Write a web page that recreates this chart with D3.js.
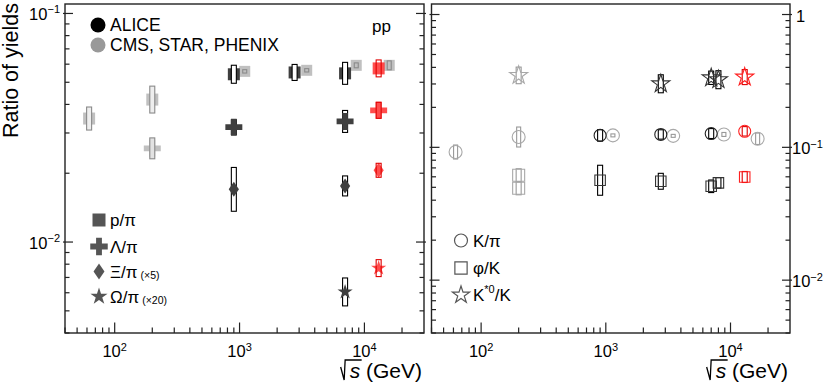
<!DOCTYPE html>
<html>
<head>
<meta charset="utf-8">
<script src="https://cdn.jsdelivr.net/npm/d3@7"></script>
<style>
  body { margin: 0; background: #fff; }
  svg { display: block; font-family: "Liberation Sans", Arial, Helvetica, sans-serif; }
</style>
</head>
<body>
<svg id="chart" width="830" height="388"></svg>
<script>
// collision energy (GeV), ratio value, relative systematic uncertainty
var energyDomain = [40, 30000];
var leftYDomain = [0.004, 0.11];
var rightYDomain = [0.004, 1.2];

// left panel - ALICE
var alicePPi = [{e: 900, v: 0.0542, sys: 0.095}, {e: 2760, v: 0.0552, sys: 0.084}, {e: 7000, v: 0.0547, sys: 0.117}];
var aliceLamPi = [{e: 900, v: 0.0318, sys: 0.078}, {e: 7000, v: 0.0337, sys: 0.117}];
var aliceXiPi = [{e: 900, v: 0.0170, sys: 0.247}, {e: 7000, v: 0.0176, sys: 0.106}];
var aliceOmPi = [{e: 7000, v: 0.00605, sys: 0.151}];
// left panel - pp 13 TeV (red)
var pp13PPi = [{e: 13000, v: 0.0575, sys: 0.089}];
var pp13LamPi = [{e: 13000, v: 0.0377, sys: 0.084}];
var pp13XiPi = [{e: 13000, v: 0.0206, sys: 0.073}];
var pp13OmPi = [{e: 13000, v: 0.00769, sys: 0.089}];
// left panel - CMS, STAR, PHENIX
var rhicPPi = [{e: 62.4, v: 0.0347, sys: 0.123}, {e: 200, v: 0.042, sys: 0.145}];
var rhicLamPi = [{e: 200, v: 0.0257, sys: 0.111}];
var cmsPPi = [{e: 1100, v: 0.0558, sys: 0.017}, {e: 3450, v: 0.0564, sys: 0.017}, {e: 8600, v: 0.0593, sys: 0.025}, {e: 15800, v: 0.0593, sys: 0.046}];

// right panel - ALICE
var aliceKPi = [{e: 900, v: 0.123, sys: 0.104}, {e: 2760, v: 0.125, sys: 0.085}, {e: 7000, v: 0.127, sys: 0.09}];
var alicePhiK = [{e: 900, v: 0.0565, sys: 0.297}, {e: 2760, v: 0.0555, sys: 0.148}, {e: 7000, v: 0.0509, sys: 0.115}, {e: 8000, v: 0.054, sys: 0.096}];
var aliceKstK = [{e: 2760, v: 0.301, sys: 0.169}, {e: 7000, v: 0.334, sys: 0.123}, {e: 8000, v: 0.323, sys: 0.169}];
// right panel - pp 13 TeV (red)
var pp13KPi = [{e: 13000, v: 0.132, sys: 0.085}];
var pp13PhiK = [{e: 13000, v: 0.0598, sys: 0.1}];
var pp13KstK = [{e: 13000, v: 0.338, sys: 0.139}];
// right panel - CMS, STAR, PHENIX
var otherKPi = [{e: 62.4, v: 0.0922, sys: 0.129}, {e: 200, v: 0.1196, sys: 0.189}, {e: 1140, v: 0.123, sys: 0.026},
  {e: 3470, v: 0.122, sys: 0.026}, {e: 8850, v: 0.125, sys: 0.035}, {e: 16500, v: 0.116, sys: 0.104}];
var otherPhiK = [{e: 200, v: 0.0616, sys: 0.12}, {e: 200, v: 0.0492, sys: 0.12}];
var otherKstK = [{e: 200, v: 0.348, sys: 0.155}];

var leftLegend = ['p/\u03c0', '\u039b/\u03c0', '\u039e/\u03c0', '\u03a9/\u03c0'];
var leftScaleNotes = ['', '', '(\u00d75)', '(\u00d720)'];
var rightLegend = ['K/\u03c0', '\u03c6/K', 'K'];

var svg = d3.select('#chart');
var plotTop = 4, plotBottom = 333;

var xL = d3.scaleLog().domain(energyDomain).range([65, 424]);
var xR = d3.scaleLog().domain(energyDomain).range([431.5, 790]);
var yL = d3.scaleLog().domain(leftYDomain).range([plotBottom, plotTop]);
var yR = d3.scaleLog().domain(rightYDomain).range([plotBottom, plotTop]);

function isMajor(t) {
  var l = Math.log10(t);
  return Math.abs(l - Math.round(l)) < 1e-6;
}

// diamond a bit wider than d3's default
var wideDiamond = {
  draw: function (ctx, r) {
    ctx.moveTo(0, -r);
    ctx.lineTo(r * 0.68, 0);
    ctx.lineTo(0, r);
    ctx.lineTo(-r * 0.68, 0);
    ctx.closePath();
  }
};
function starSize(r) { return r * r / 0.8908130915292852; }

function powLabel(text, exp) {
  text.append('tspan').text('10');
  text.append('tspan').attr('dy', -6.5).attr('font-size', 11).text(exp);
}

function drawFrame(x, y, labelSide) {
  var x0 = x.range()[0], x1 = x.range()[1];
  var g = svg.append('g');

  x.ticks().filter(function (t) { return t < energyDomain[1] * 0.999; }).forEach(function (t) {
    var len = isMajor(t) ? 10.5 : 5.5;
    g.append('line').attr('x1', x(t)).attr('x2', x(t)).attr('y1', plotBottom).attr('y2', plotBottom - len)
      .attr('stroke', '#222').attr('stroke-width', 1.2);
    if (isMajor(t)) {
      var txt = g.append('text').attr('x', x(t)).attr('y', 357).attr('text-anchor', 'middle').attr('font-size', 16.5);
      powLabel(txt, String(Math.round(Math.log10(t))));
    }
  });

  y.ticks().forEach(function (t) {
    var yy = y(t), major = isMajor(t);
    var len = major ? 8 : 4.5;
    g.append('line').attr('x1', x0 - (major ? 2 : 0)).attr('x2', x0 + len).attr('y1', yy).attr('y2', yy)
      .attr('stroke', '#222').attr('stroke-width', 1.2);
    g.append('line').attr('x1', x1 - len).attr('x2', x1 + (major ? 2 : 0)).attr('y1', yy).attr('y2', yy)
      .attr('stroke', '#222').attr('stroke-width', 1.2);
    if (!major) return;
    var p = Math.round(Math.log10(t));
    if (labelSide === 'left') {
      var tl = g.append('text').attr('x', 60).attr('y', yy + 6.5).attr('text-anchor', 'end').attr('font-size', 16.5);
      powLabel(tl, '\u2212' + (-p));
    } else {
      var tr = g.append('text').attr('x', x1 + 2).attr('y', yy + 7).attr('font-size', 16.5);
      if (p === 0) {
        tr.attr('x', x1 + 6).text('1');
      } else {
        powLabel(tr, '\u2212' + (-p));
      }
    }
  });

  g.append('rect').attr('x', x0).attr('y', plotTop).attr('width', x1 - x0).attr('height', plotBottom - plotTop)
    .attr('fill', 'none').attr('stroke', '#222').attr('stroke-width', 1.4);
}

function drawSeries(x, y, data, o) {
  var g = svg.append('g');
  var sym = d3.symbol().type(o.type).size(o.size);
  function boxes() {
    g.selectAll(null).data(data).enter().append('rect')
      .attr('x', function (d) { return x(d.e) - o.boxW / 2; })
      .attr('y', function (d) { return y(d.v * (1 + d.sys)); })
      .attr('width', o.boxW)
      .attr('height', function (d) { return y(d.v / (1 + d.sys)) - y(d.v * (1 + d.sys)); })
      .attr('fill', o.boxFill || 'none')
      .attr('stroke', o.boxStroke).attr('stroke-width', 1.1);
  }
  function marks() {
    g.selectAll(null).data(data).enter().append('path')
      .attr('transform', function (d) { return 'translate(' + x(d.e) + ',' + y(d.v) + ')'; })
      .attr('d', sym)
      .attr('fill', o.fill || 'none')
      .attr('fill-opacity', o.opacity || 1)
      .attr('stroke', o.stroke || 'none')
      .attr('stroke-width', o.strokeW || 1.1);
  }
  if (o.boxOnTop) { marks(); boxes(); } else { boxes(); marks(); }
}

drawFrame(xL, yL, 'left');
drawFrame(xR, yR, 'right');

// ---- left panel markers ----
var grayFill = '#b5b5b5', aliceFill = '#3f3f3f', redFill = '#ff2020';
drawSeries(xL, yL, rhicPPi, {type: d3.symbolSquare, size: 144, fill: grayFill, opacity: 0.85, boxW: 5, boxStroke: '#8a8a8a', boxFill: '#eee', boxOnTop: true});
drawSeries(xL, yL, rhicLamPi, {type: d3.symbolCross, size: 160, fill: grayFill, opacity: 0.85, boxW: 5, boxStroke: '#8a8a8a', boxFill: '#e2e2e2', boxOnTop: true});
drawSeries(xL, yL, cmsPPi, {type: d3.symbolSquare, size: 121, fill: grayFill, opacity: 0.85, boxW: 4, boxStroke: '#8a8a8a', boxOnTop: true});

drawSeries(xL, yL, alicePPi, {type: d3.symbolSquare, size: 144, fill: aliceFill, boxW: 5, boxStroke: '#000', boxFill: '#fff', boxOnTop: true});
drawSeries(xL, yL, aliceLamPi, {type: d3.symbolCross, size: 160, fill: aliceFill, boxW: 5, boxStroke: '#000'});
drawSeries(xL, yL, aliceXiPi, {type: wideDiamond, size: 7.5, fill: aliceFill, boxW: 5, boxStroke: '#000'});
drawSeries(xL, yL, aliceOmPi, {type: d3.symbolStar, size: starSize(8), fill: aliceFill, boxW: 5, boxStroke: '#000'});

drawSeries(xL, yL, pp13PPi, {type: d3.symbolSquare, size: 144, fill: redFill, opacity: 0.8, boxW: 5, boxStroke: '#e00000', boxOnTop: true});
drawSeries(xL, yL, pp13LamPi, {type: d3.symbolCross, size: 160, fill: redFill, opacity: 0.8, boxW: 5, boxStroke: '#e00000', boxOnTop: true});
drawSeries(xL, yL, pp13XiPi, {type: wideDiamond, size: 7.5, fill: redFill, opacity: 0.8, boxW: 5, boxStroke: '#e00000', boxOnTop: true});
drawSeries(xL, yL, pp13OmPi, {type: d3.symbolStar, size: starSize(8), fill: redFill, opacity: 0.8, boxW: 5, boxStroke: '#e00000', boxOnTop: true});

// ---- right panel markers ----
var grayLine = '#a8a8a8';
drawSeries(xR, yR, otherKPi, {type: d3.symbolCircle, size: Math.PI * 42, stroke: grayLine, boxW: 4, boxStroke: '#999'});
drawSeries(xR, yR, otherPhiK, {type: d3.symbolSquare, size: 144, stroke: grayLine, boxW: 5, boxStroke: '#999'});
drawSeries(xR, yR, otherKstK, {type: d3.symbolStar, size: starSize(9.5), stroke: grayLine, boxW: 5, boxStroke: '#999'});

drawSeries(xR, yR, aliceKPi, {type: d3.symbolCircle, size: Math.PI * 36, stroke: '#222', boxW: 5, boxStroke: '#000'});
drawSeries(xR, yR, alicePhiK, {type: d3.symbolSquare, size: 110, stroke: '#333', boxW: 5, boxStroke: '#000'});
drawSeries(xR, yR, aliceKstK, {type: d3.symbolStar, size: starSize(9.5), stroke: '#333', boxW: 5, boxStroke: '#000'});

drawSeries(xR, yR, pp13KPi, {type: d3.symbolCircle, size: Math.PI * 36, stroke: '#ff2020', boxW: 5, boxStroke: '#e00000'});
drawSeries(xR, yR, pp13PhiK, {type: d3.symbolSquare, size: 110, stroke: '#ff2020', boxW: 5, boxStroke: '#e00000'});
drawSeries(xR, yR, pp13KstK, {type: d3.symbolStar, size: starSize(9.5), stroke: '#ff2020', boxW: 5, boxStroke: '#e00000'});

// ---- legends ----
var lg = svg.append('g').attr('font-size', 17.5);
lg.append('circle').attr('cx', 98).attr('cy', 25).attr('r', 7.5).attr('fill', '#000');
lg.append('text').attr('x', 110).attr('y', 31).text('ALICE');
lg.append('circle').attr('cx', 98).attr('cy', 45).attr('r', 7.5).attr('fill', '#999');
lg.append('text').attr('x', 110).attr('y', 51).text('CMS, STAR, PHENIX');
lg.append('text').attr('x', 372).attr('y', 32).attr('font-size', 17).text('pp');

var leftShapes = [
  d3.symbol().type(d3.symbolSquare).size(169),
  d3.symbol().type(d3.symbolCross).size(170),
  d3.symbol().type(wideDiamond).size(8),
  d3.symbol().type(d3.symbolStar).size(starSize(9))
];
var leftRows = [220, 246.5, 271.5, 296.5];
leftLegend.forEach(function (label, i) {
  lg.append('path').attr('transform', 'translate(99,' + leftRows[i] + ')').attr('d', leftShapes[i]).attr('fill', '#555');
  var t = lg.append('text').attr('x', 110).attr('y', leftRows[i] + 6).attr('font-size', 17);
  t.append('tspan').text(label);
  if (leftScaleNotes[i]) t.append('tspan').attr('font-size', 10.5).attr('dx', 3).attr('dy', 1).text(leftScaleNotes[i]);
});

var rightShapes = [
  d3.symbol().type(d3.symbolCircle).size(Math.PI * 42),
  d3.symbol().type(d3.symbolSquare).size(150),
  d3.symbol().type(d3.symbolStar).size(starSize(9))
];
var rightRows = [240.5, 268, 295];
rightLegend.forEach(function (label, i) {
  lg.append('path').attr('transform', 'translate(461,' + rightRows[i] + ')').attr('d', rightShapes[i])
    .attr('fill', 'none').attr('stroke', '#555').attr('stroke-width', 1.2);
  var t = lg.append('text').attr('x', 473).attr('y', rightRows[i] + 6).attr('font-size', 17);
  t.append('tspan').text(label);
  if (i === 2) {
    t.append('tspan').attr('font-size', 11).attr('dy', -8).text('*0');
    t.append('tspan').attr('dy', 8).text('/K');
  }
});

// ---- axis titles ----
svg.append('text').attr('transform', 'translate(18,3) rotate(-90)').attr('text-anchor', 'end')
  .attr('font-size', 21.5).text('Ratio of yields');

function xTitle(xEnd) {
  var t = svg.append('text').attr('x', xEnd).attr('y', 378).attr('text-anchor', 'end').attr('font-size', 21);
  t.append('tspan').attr('font-style', 'italic').text('s');
  t.append('tspan').text(' (GeV)');
  var sx = t.node().getStartPositionOfChar(0).x;
  svg.append('path')
    .attr('d', 'M' + (sx - 9) + ',367L' + (sx - 5.5) + ',380L' + (sx - 4.5) + ',360H' + (sx + 12))
    .attr('fill', 'none').attr('stroke', '#000').attr('stroke-width', 1.3);
}
xTitle(422);
xTitle(788);
</script>
</body>
</html>
